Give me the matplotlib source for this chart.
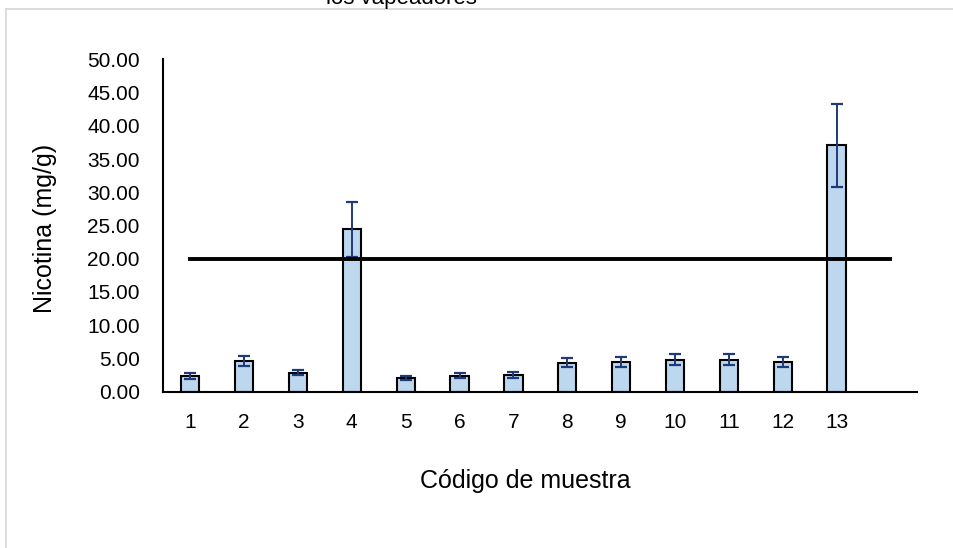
import numpy as np
import matplotlib
matplotlib.use('Agg')
import matplotlib.pyplot as plt
from matplotlib.lines import Line2D

plt.rcParams['font.family'] = ['Liberation Sans', 'DejaVu Sans']

# data
muestras = ['1', '2', '3', '4', '5', '6', '7', '8', '9', '10', '11', '12', '13']
nicotina = [2.35, 4.6, 2.85, 24.4, 2.05, 2.4, 2.5, 4.35, 4.4, 4.8, 4.8, 4.45, 37.05]
error = [0.4, 0.8, 0.4, 4.1, 0.35, 0.35, 0.4, 0.65, 0.75, 0.85, 0.85, 0.8, 6.2]
limite_x = [1, 14]
limite_y = [20, 20]
yticks = np.arange(0, 55, 5)

fig = plt.figure(figsize=(9.54, 5.48), dpi=100)
ax = fig.add_axes([163.3/954, 1-391.7/548, (917.3-163.3)/954, (391.7-59.3)/548])

x = np.arange(1, len(muestras)+1)
ax.bar(x, nicotina, width=0.34, color='#BDD7EE', edgecolor='black', linewidth=1.5, zorder=2)
ax.errorbar(x, nicotina, yerr=error, fmt='none', ecolor='#1F3A78', elinewidth=1.4,
            capsize=4, capthick=1.6, zorder=3)
ax.plot(limite_x, limite_y, color='black', linewidth=2.8, zorder=4)

ax.set_xlim(0.5, 14.5)
ax.set_ylim(0, 50)
ax.set_xticks(x)
ax.set_xticklabels(muestras)
ax.set_yticks(yticks)
ax.set_yticklabels(['%.2f' % v for v in yticks])
ax.tick_params(axis='both', length=0, labelsize=15)
ax.tick_params(axis='y', pad=17)
ax.tick_params(axis='x', pad=15)
for s in ['top', 'right']:
    ax.spines[s].set_visible(False)
for s in ['left', 'bottom']:
    ax.spines[s].set_linewidth(1.5)
    ax.spines[s].set_zorder(5)

fig.text(45/954, 1-228/548, 'Nicotina (mg/g)', rotation=90, ha='center', va='center', fontsize=18)
fig.text(525/954, 1-481/548, 'Código de muestra', ha='center', va='center', fontsize=18)

# chart title cut off at the top of the image
fig.text(401/954, 1-4/548, 'los vapeadores', ha='center', va='baseline', fontsize=16)

# light gray chart border (only top and left visible)
fig.add_artist(Line2D([6.5/954, 1.0], [1-8.5/548, 1-8.5/548], color='#d9d9d9', linewidth=1.3))
fig.add_artist(Line2D([6.5/954, 6.5/954], [0.0, 1-8.5/548], color='#d9d9d9', linewidth=1.3))

fig.savefig('out.png', dpi=100)
